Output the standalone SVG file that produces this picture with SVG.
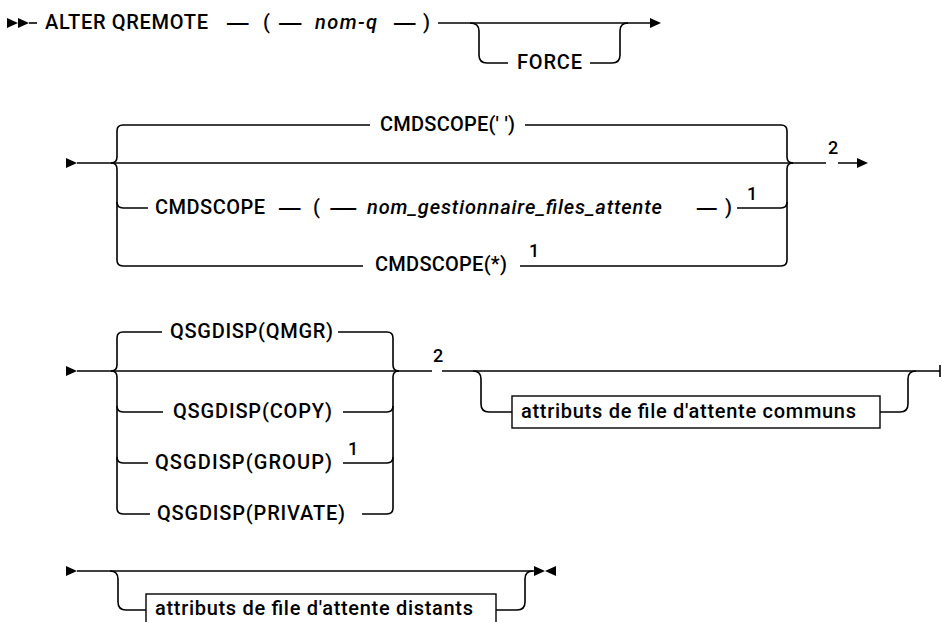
<svg xmlns="http://www.w3.org/2000/svg" width="942" height="622" viewBox="0 0 942 622">
<style>
.t{font-family:Roboto,"Open Sans","Liberation Sans",sans-serif;font-size:20px;font-weight:500;fill:#000}
.i{font-style:italic}
.s{font-size:18px}
.ln{fill:none;stroke:#000;stroke-width:1.6}
.ah{fill:#000}
.box{fill:#fff;stroke:#000;stroke-width:1.4}
</style>
<rect width="942" height="622" fill="#fff"/>
<g id="connectors">
  <polygon class="ah" points="7,18 18,23 7,28"/>
  <polygon class="ah" points="18,18 29,23 18,28"/>
  <path class="ln" d="M29,23 H37"/>
  <path class="ln" d="M438,23 H651"/>
  <polygon class="ah" points="650,18 661,23 650,28"/>
  <path class="ln" d="M470,23 Q479,23 479,31 V55 Q479,63 487,63 H508"/>
  <path class="ln" d="M590,63 H612 Q620,63 620,55 V31 Q620,23 628,23"/>
  <polygon class="ah" points="66,158 77,163 66,168"/>
  <path class="ln" d="M77,163 H826 M838,163 H858"/>
  <polygon class="ah" points="857,158 868,163 857,168"/>
  <path class="ln" d="M370,125 H123 Q117,125 117,131 V157 Q117,163 111,163"/>
  <path class="ln" d="M111,163 Q117,163 117,169 V260 Q117,266 123,266 H363"/>
  <path class="ln" d="M117,202 Q117,208 123,208 H148"/>
  <path class="ln" d="M525,125 H781 Q787,125 787,131 V157 Q787,163 793,163"/>
  <path class="ln" d="M793,163 Q787,163 787,169 V260 Q787,266 781,266 H520"/>
  <path class="ln" d="M737,208 H781 Q787,208 787,202"/>
  <polygon class="ah" points="66,366 77,371 66,376"/>
  <path class="ln" d="M77,371 H432 M442,371 H940"/>
  <path class="ln" d="M940,365 V377"/>
  <path class="ln" d="M162,332 H123 Q117,332 117,338 V365 Q117,371 111,371"/>
  <path class="ln" d="M111,371 Q117,371 117,377 V508 Q117,514 123,514 H150"/>
  <path class="ln" d="M117,406 Q117,412 123,412 H163"/>
  <path class="ln" d="M117,457 Q117,463 123,463 H148"/>
  <path class="ln" d="M338,332 H387 Q393,332 393,338 V365 Q393,371 399,371"/>
  <path class="ln" d="M399,371 Q393,371 393,377 V508 Q393,514 387,514 H362"/>
  <path class="ln" d="M343,412 H387 Q393,412 393,406"/>
  <path class="ln" d="M343,463 H387 Q393,463 393,457"/>
  <path class="ln" d="M473,371 Q481,371 481,379 V404 Q481,412 489,412 H512"/>
  <path class="ln" d="M880,412 H900 Q908,412 908,404 V379 Q908,371 916,371"/>
  <polygon class="ah" points="66,566 77,571 66,576"/>
  <path class="ln" d="M77,571 H535"/>
  <polygon class="ah" points="534,566 545,571 534,576"/>
  <polygon class="ah" points="556,566 545,571 556,576"/>
  <path class="ln" d="M110,571 Q118,571 118,579 V602 Q118,610 126,610 H146"/>
  <path class="ln" d="M496,610 H517 Q525,610 525,602 V579 Q525,571 533,571"/>
</g>
<g id="n-alter">
  <text class="t" x="45" y="29" textLength="163">ALTER QREMOTE</text>
  <text class="t" x="225" y="31" textLength="25" lengthAdjust="spacingAndGlyphs">—</text>
  <text class="t" x="263" y="29">(</text>
  <text class="t" x="277" y="31" textLength="26" lengthAdjust="spacingAndGlyphs">—</text>
  <text class="t i" x="315" y="29" textLength="62">nom-q</text>
  <text class="t" x="392" y="31" textLength="25" lengthAdjust="spacingAndGlyphs">—</text>
  <text class="t" x="423" y="29">)</text>
</g>
<g id="n-force">
  <text class="t" x="517" y="69" textLength="65">FORCE</text>
</g>
<g id="n-cmdscope-blank">
  <text class="t" x="380" y="131" textLength="135">CMDSCOPE(' ')</text>
</g>
<g id="n-cmdscope-qmgr">
  <text class="t" x="155" y="214" textLength="110">CMDSCOPE</text>
  <text class="t" x="277" y="216" textLength="25" lengthAdjust="spacingAndGlyphs">—</text>
  <text class="t" x="313" y="214">(</text>
  <text class="t" x="328" y="216" textLength="30" lengthAdjust="spacingAndGlyphs">—</text>
  <text class="t i" x="367" y="214" textLength="295">nom_gestionnaire_files_attente</text>
  <text class="t" x="695" y="216" textLength="23" lengthAdjust="spacingAndGlyphs">—</text>
  <text class="t" x="725" y="214">)</text>
  <text class="t s" x="747" y="200">1</text>
</g>
<g id="n-cmdscope-star">
  <text class="t" x="375" y="271" textLength="132">CMDSCOPE(*)</text>
  <text class="t s" x="529" y="257">1</text>
</g>
<g id="n-note2a">
  <text class="t s" x="828" y="154">2</text>
</g>
<g id="n-qmgr">
  <text class="t" x="170" y="338" textLength="163">QSGDISP(QMGR)</text>
</g>
<g id="n-copy">
  <text class="t" x="173" y="418" textLength="159">QSGDISP(COPY)</text>
</g>
<g id="n-group">
  <text class="t" x="155" y="469" textLength="177">QSGDISP(GROUP)</text>
  <text class="t s" x="348" y="455">1</text>
</g>
<g id="n-private">
  <text class="t" x="157" y="520" textLength="188">QSGDISP(PRIVATE)</text>
</g>
<g id="n-note2b">
  <text class="t s" x="433" y="362">2</text>
</g>
<g id="n-communs">
  <rect class="box" x="512" y="396" width="368" height="32"/>
  <text class="t" x="521" y="418" textLength="335">attributs de file d'attente communs</text>
</g>
<g id="n-distants">
  <rect class="box" x="146" y="594" width="350" height="32"/>
  <text class="t" x="155" y="615" textLength="318">attributs de file d'attente distants</text>
</g>
</svg>
